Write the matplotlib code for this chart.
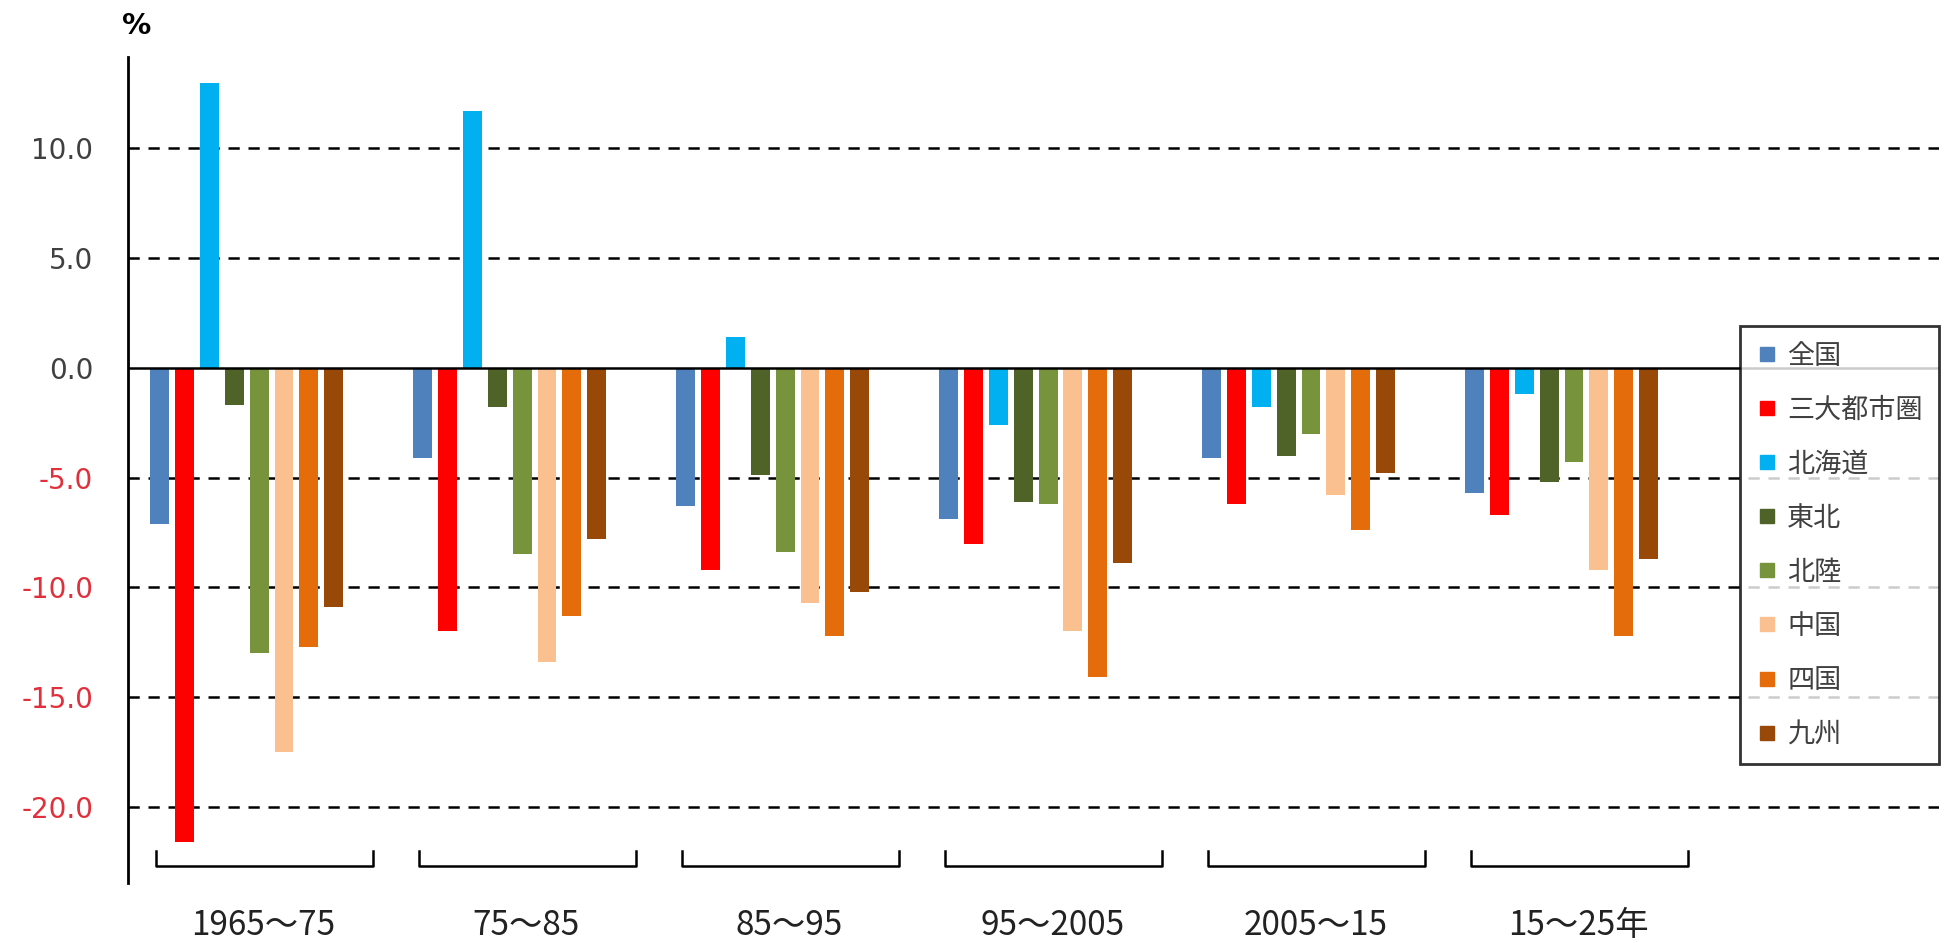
import numpy as np
import matplotlib
matplotlib.use('Agg')
from matplotlib import pyplot as plt
from matplotlib.lines import Line2D

plt.rcParams['font.family'] = ['Noto Sans CJK JP', 'DejaVu Sans']

periods = ['1965〜75', '75〜85', '85〜95', '95〜2005', '2005〜15', '15〜25年']
regions = ['全国', '三大都市圏', '北海道', '東北', '北陸', '中国', '四国', '九州']
colors = ['#4F81BD', '#FF0000', '#00B0F0', '#4F6228', '#77933C', '#FAC090', '#E46C0A', '#984807']

# % change per period, one list per region
zenkoku   = [-7.1, -4.1, -6.3, -6.9, -4.1, -5.7]
sandai    = [-21.6, -12.0, -9.2, -8.0, -6.2, -6.7]
hokkaido  = [13.0, 11.7, 1.4, -2.6, -1.8, -1.2]
tohoku    = [-1.7, -1.8, -4.9, -6.1, -4.0, -5.2]
hokuriku  = [-13.0, -8.5, -8.4, -6.2, -3.0, -4.3]
chugoku   = [-17.5, -13.4, -10.7, -12.0, -5.8, -9.2]
shikoku   = [-12.7, -11.3, -12.2, -14.1, -7.4, -12.2]
kyushu    = [-10.9, -7.8, -10.2, -8.9, -4.8, -8.7]
series = [zenkoku, sandai, hokkaido, tohoku, hokuriku, chugoku, shikoku, kyushu]

yticks = [-20, -15, -10, -5, 0, 5, 10]

fig = plt.figure(figsize=(19.49, 9.43), dpi=100)
ax = fig.add_axes([0.0657, 0.0636, 0.929, 0.876])

x = np.arange(len(periods))
pitch = 0.0947
width = 0.072
shift = -0.064
for j, (vals, c) in enumerate(zip(series, colors)):
    ax.bar(x + shift + (j - 3.5) * pitch, vals, width, color=c, zorder=3)

# gridlines and zero line
for t in yticks:
    if t == 0:
        ax.axhline(0, color='black', lw=1.8, zorder=4)
    else:
        ax.axhline(t, color='black', lw=1.8, ls=(0, (4.5, 3.5)), zorder=1)

# brackets under each period
for i in x:
    ax.plot([i - 0.41, i - 0.41, i + 0.416, i + 0.416], [-22.0, -22.7, -22.7, -22.0],
            color='black', lw=1.8, clip_on=False, zorder=2)
    ax.text(i, -0.052, periods[i], transform=ax.get_xaxis_transform(),
            ha='center', va='center', fontsize=24, color='#222222')

ax.set_xlim(-0.515, 6.37)
ax.set_ylim(-23.47, 14.17)
ax.set_xticks([])
ax.set_yticks(yticks)
ax.set_yticklabels(['%.1f' % t for t in yticks], family='DejaVu Sans', fontsize=20)
for lab, t in zip(ax.get_yticklabels(), yticks):
    lab.set_color('#E0303C' if t < 0 else '#404040')
ax.tick_params(axis='y', length=0, pad=25)
for s in ['top', 'right', 'bottom']:
    ax.spines[s].set_visible(False)
ax.spines['left'].set_linewidth(2)

fig.text(0.0703, 0.972, '%', fontsize=21, fontweight='bold', family='DejaVu Sans',
         ha='center', va='center')

handles = [Line2D([], [], marker='s', ls='', markersize=10, color=c) for c in colors]
leg = ax.legend(handles, regions, loc='upper right', bbox_to_anchor=(0.995, 0.654),
                bbox_transform=fig.transFigure, fontsize=19.5, frameon=True, fancybox=False,
                labelspacing=1.0, handlelength=0.8, handletextpad=0.35, borderpad=0.6,
                borderaxespad=0, labelcolor='#404040')
leg.get_frame().set_edgecolor('black')
leg.get_frame().set_linewidth(2)
leg.set_zorder(10)

plt.savefig('out.png', dpi=100)
